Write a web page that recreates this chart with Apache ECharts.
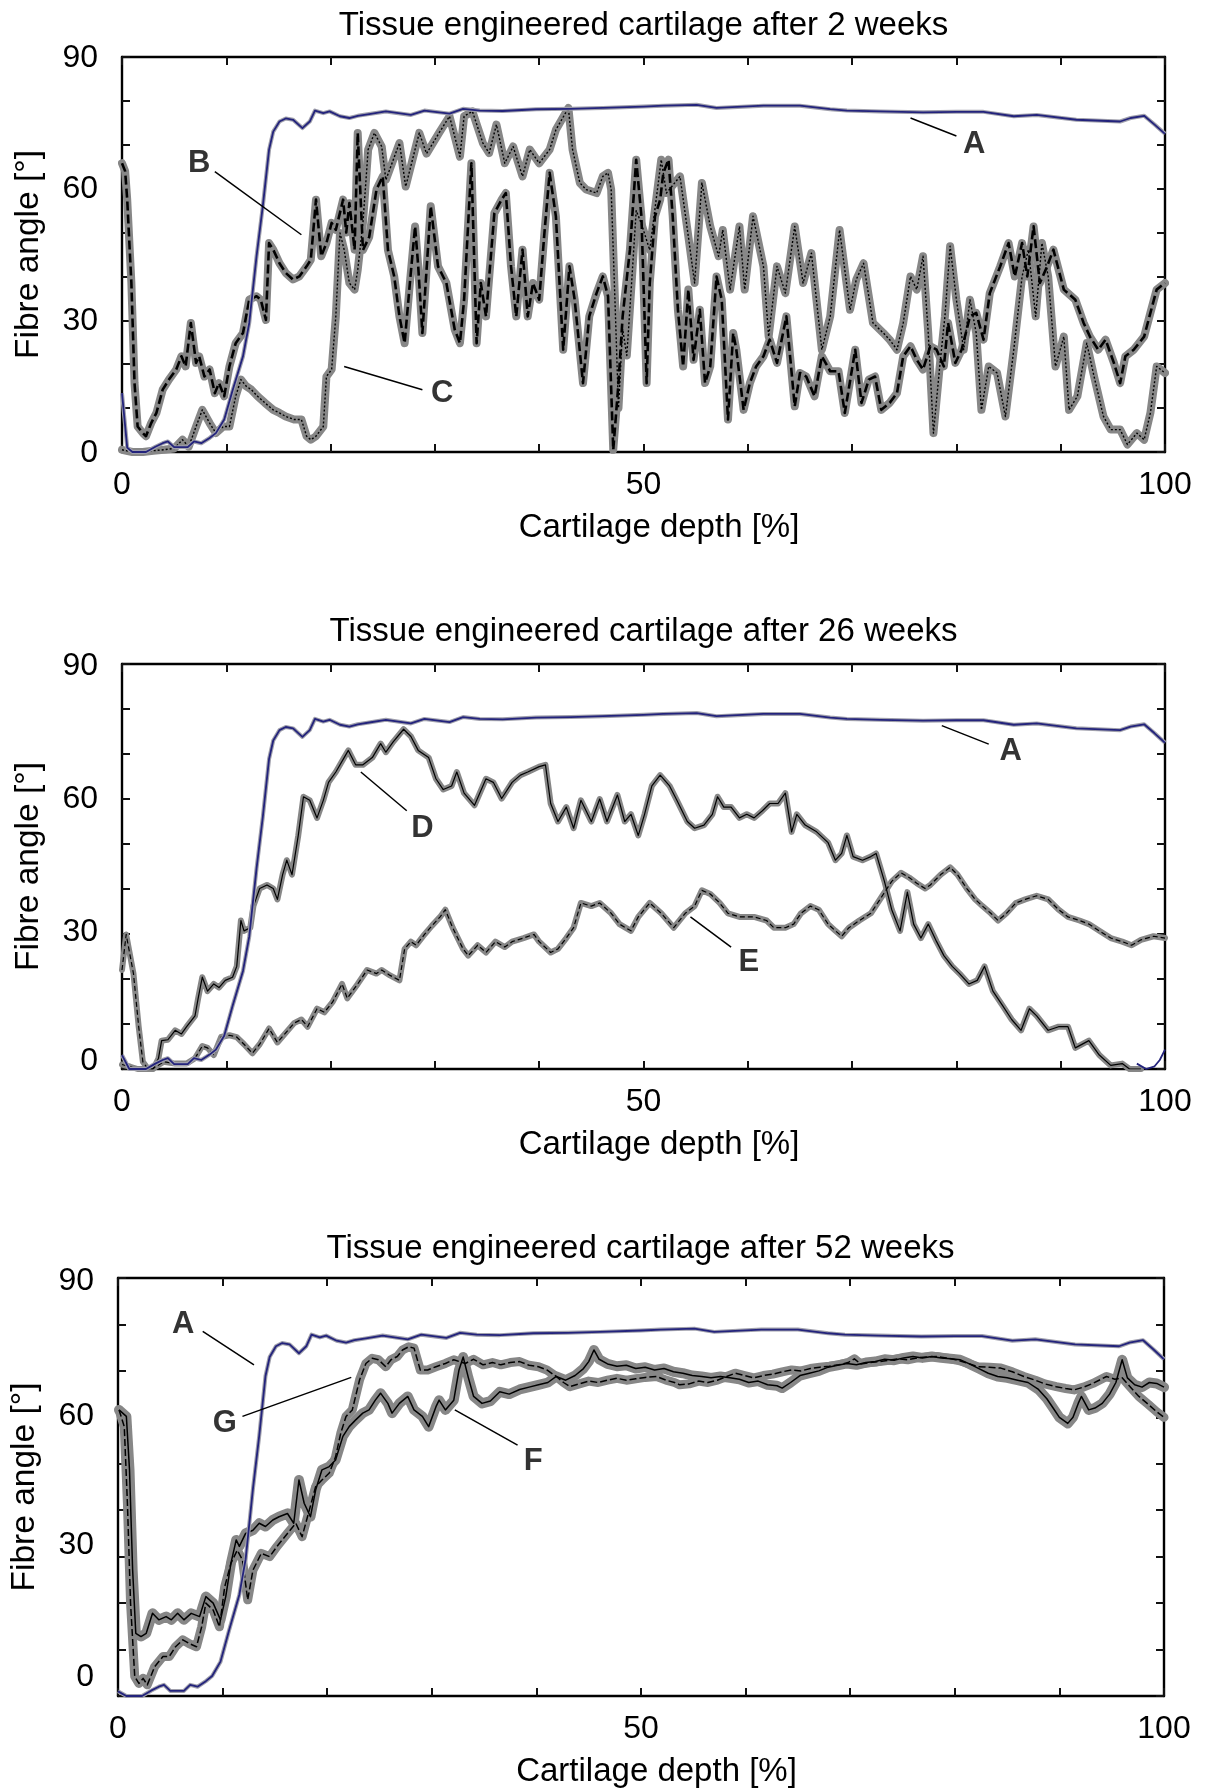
<!DOCTYPE html>
<html><head><meta charset="utf-8">
<script src="https://cdn.jsdelivr.net/npm/echarts@6/dist/echarts.min.js"></script>
<style>html,body{margin:0;padding:0;background:#fff}#c{width:1206px;height:1789px}</style>
</head><body><div id="c"></div>
<script>
// ---------------- DATA ----------------
const titles = ['Tissue engineered cartilage after 2 weeks','Tissue engineered cartilage after 26 weeks','Tissue engineered cartilage after 52 weeks'];
const xTickLabels = [0, 50, 100];
const yTickLabels = [0, 30, 60, 90];
const xName = 'Cartilage depth [%]';
const yName = 'Fibre angle [°]';

// Curve A (native reference), shared by all panels, plus panel specific start
const curveA = [[1,0],[2.3,0],[3.2,1.2],[3.9,2],[4.4,2.4],[5,1.1],[6.3,1.1],[6.9,2.4],[7.6,2],[8.4,3.2],[9,4.3],[9.8,7.4],[10.6,14],[11.6,21.8],[12.2,29.4],[12.9,44.6],[13.5,56],[14.1,68.9],[14.5,73],[15.1,75.3],[15.7,76],[16.4,75.7],[17.3,73.8],[18,75.3],[18.5,77.8],[19.3,77.2],[19.9,77.6],[20.9,76.5],[21.8,76.1],[22.6,76.6],[23.7,77],[25.3,77.6],[27.7,76.8],[29,77.8],[31.4,77.1],[32.7,78.2],[34.3,77.8],[36.5,77.7],[39.7,78.1],[43,78.2],[46.1,78.4],[50,78.7],[51.9,78.9],[55.1,79.1],[57,78.4],[61.5,78.9],[65,78.9],[67.9,78.1],[69.5,77.8],[72.7,77.6],[76.8,77.4],[80,77.5],[82.6,77.5],[85.5,76.5],[87.7,76.8],[91.5,75.7],[95.7,75.3],[96.7,76.1],[98,76.6],[99,74.6],[100,72.5]];
const aStart_2wk = [[0,13.4],[0.5,1]];
const aStart_26wk = [[0,3.1],[0.7,0]];
const aStart_52wk = [[0,1],[0.8,0]];
const aTail_26wk = [[97.3,1.2],[98.2,0],[99,0.6],[99.5,2],[100,4.3]];

// 2 weeks
const curveB_2wk = [[0,65.8],[0.3,64],[0.5,57.5],[0.9,38.5],[1.2,15.7],[1.5,5.8],[2,4.3],[2.3,3.6],[2.8,6.6],[3.3,8.9],[3.9,14.2],[4.5,16.5],[5.2,18.8],[5.7,21.8],[6.1,19.5],[6.6,29.4],[7.1,20.3],[7.4,21.8],[7.9,17.2],[8.4,18.8],[8.9,13.4],[9.3,15.7],[9.8,12.7],[10.3,19.5],[10.9,24.8],[11.6,27.1],[12.2,34.7],[12.9,35.5],[13.3,34.7],[13.8,30.1],[14.1,47.6],[14.5,46.1],[15.1,43],[15.7,40.8],[16.4,39.3],[17,40],[17.7,42.3],[18.1,43.8],[18.6,57.5],[19.1,44.6],[19.6,47.6],[20.1,52.2],[20.5,50.6],[21.2,57.5],[21.5,50],[21.8,56.7],[22.3,46.1],[22.6,72.7],[23.1,46],[23.7,49],[24.4,59.8],[25,62.8],[25.5,46],[26.1,40],[26.6,30.9],[27.1,24.8],[27.6,38.5],[28.1,51.4],[28.4,42.3],[28.8,27.1],[29.6,56],[30.3,42.3],[31.1,38.5],[31.9,27.9],[32.4,24.8],[32.8,34.7],[33.5,65.8],[34,24.8],[34.4,38.5],[34.9,30.9],[35.7,54.4],[36.4,57.5],[36.8,59],[37.3,42.3],[37.8,30.9],[38.4,46.1],[38.9,30.9],[39.4,38.5],[40,34.7],[40.5,49.9],[41,63.6],[41.6,53.7],[42.3,23.3],[42.9,42.3],[43.4,34.7],[44.2,15.7],[44.8,30.9],[45.5,36.2],[46.1,40],[46.6,35.5],[47.1,0.5],[47.6,15.7],[48,30.9],[48.7,46.1],[49.3,66.6],[49.8,53.7],[50.3,15.7],[50.6,38.5],[51.1,53.7],[51.6,57.5],[51.9,63.6],[52.4,66.6],[52.8,53.7],[53.3,32.4],[53.8,19.5],[54.3,37],[54.8,21],[55.4,32.4],[55.9,15.7],[56.4,19.5],[57,40],[57.5,34.7],[58.1,7.4],[58.6,27.1],[58.9,23.3],[59.6,9.6],[60.2,15.7],[60.8,19.5],[61.5,21.8],[62.1,25.6],[62.8,20.3],[63.7,30.9],[64.5,10.4],[65,18],[65.6,17.2],[66.4,12.7],[67.1,21.8],[67.9,18.4],[68.7,18.4],[69.3,8.9],[70.3,23.3],[70.9,11.2],[71.6,16.5],[72.2,17.2],[72.8,9.6],[73.6,11.2],[74.3,13.4],[74.9,21.8],[75.6,24.1],[76.2,21],[76.8,18.8],[77.5,24.1],[78.1,23.3],[78.8,19.5],[79.2,29.4],[79.9,20.3],[80.5,23.3],[81.3,30.9],[81.9,31.7],[82.6,25.6],[83.2,36.2],[84.2,42.3],[85,47.6],[85.6,40],[86.3,47.6],[86.8,40],[87.4,51.4],[88,38.5],[88.7,42.3],[89.3,46.1],[90.3,37],[91.4,34.7],[92.2,29.4],[92.8,26.3],[93.6,23.3],[94.3,25.6],[95.1,20.3],[95.7,15.7],[96.2,21.8],[97,23.3],[98,26.3],[98.6,31.7],[99.2,37],[100,38.5]];
const curveC_2wk = [[0,0.5],[1,0],[2,0],[3,0.3],[4,0.5],[5,0.8],[5.8,2.8],[6.4,1.2],[7.1,5.8],[7.7,9.6],[8.4,6.6],[9,4.3],[9.7,5.8],[10.3,5.8],[10.9,12.7],[11.4,16.5],[11.9,15],[12.4,14.2],[13,12.7],[13.7,11.2],[14.5,9.6],[15.1,8.9],[15.7,8.1],[16.5,7.4],[17.2,7.4],[17.7,3.6],[18.1,2.8],[18.6,3.6],[19.3,5.8],[19.6,17.2],[20.1,18.8],[20.5,30.9],[20.9,49.9],[21.3,46.1],[21.8,38.5],[22.3,37],[22.6,41.5],[23.1,52.2],[23.6,68.9],[24.2,72.7],[24.9,69.6],[25.3,62],[26.6,70.4],[27.2,60.5],[28.5,72.7],[29.2,68],[30.4,72.7],[31.4,76.5],[32.4,67.3],[32.8,76.5],[33.6,77.6],[34.6,70.4],[35.2,68.1],[35.9,74.6],[36.7,65.8],[37.5,69.6],[38.4,62.8],[39.1,68.9],[40,65.8],[41,68.9],[41.6,73.4],[42.8,78.4],[43.2,68.9],[43.9,61.3],[44.5,59.8],[45.5,59],[46.1,62.8],[46.6,63.6],[46.9,59.8],[47.3,32],[47.6,10],[48,28],[48.4,22],[48.9,40],[49.3,55],[49.8,52],[50.6,46],[51.7,66.6],[52.2,59],[53.5,62.8],[54.3,49.1],[54.9,38.5],[55.6,61.3],[56.4,51.4],[57.2,44.6],[57.6,50.6],[58.3,37],[59.2,51.4],[59.7,37],[60.5,53.7],[61.5,42.3],[62,26.3],[62.8,42.3],[63.6,36.2],[64.5,51.4],[65.3,38.5],[66.1,45.3],[67.1,23.3],[67.9,30.9],[68.8,50.6],[69.8,32.4],[70.4,39.3],[71.1,43],[72,29.4],[73,27.1],[73.6,25.6],[74.3,23.3],[74.9,29.4],[75.6,40],[76.2,37],[76.8,44.6],[77.3,27.1],[77.8,4.3],[78.4,19.5],[78.9,30.9],[79.4,46.9],[80,34.7],[80.7,23.3],[81.3,34.7],[81.9,27.1],[82.4,9.6],[83.1,19.5],[83.9,18],[84.7,8.1],[85.5,23.3],[86.3,40],[86.9,46.1],[87.6,30.9],[88.2,47.6],[88.8,40],[89.5,19.5],[90.3,26.3],[90.8,9.6],[91.6,12.7],[92.5,24.8],[93.2,17.2],[94.1,8.1],[94.8,5.1],[95.7,5.1],[96.4,1.7],[97.3,4.3],[98,2.8],[98.6,8.9],[99.2,19.5],[100,18]];

// 26 weeks
const curveD_26wk = [[0,1],[0.8,0.5],[1.5,0],[3,0],[3.5,2.4],[3.8,6.3],[4.4,6.5],[5.1,8.6],[5.7,7.8],[6.2,9.4],[7,11.8],[7.3,15.7],[7.7,20.4],[8.2,17.3],[8.8,18.9],[9.3,18.1],[9.9,19.7],[10.6,20.4],[11,22.8],[11.4,33],[11.7,30.7],[12.3,31.4],[12.6,36.2],[13.2,40.1],[13.9,40.9],[14.5,40.1],[14.9,37.7],[15.4,43.2],[15.8,46.4],[16.3,43.2],[16.9,51.9],[17.4,60.5],[18,59.7],[18.7,55.8],[19.3,59.7],[19.8,63.7],[20.5,66],[21.3,69.2],[21.7,70.8],[22.4,67.6],[23.1,67.6],[24,69.2],[24.8,72.3],[25.3,70.4],[26,72.7],[27,75.5],[27.7,73.9],[28.4,70.8],[29.4,69.2],[30.1,64.5],[30.8,62.1],[31.6,62.9],[32.1,66],[32.8,61.3],[33.8,58.6],[34.9,64.5],[35.6,63.7],[36.4,60.1],[37.4,63.7],[38.2,65.3],[38.9,66],[40,67.2],[40.6,67.6],[41.1,59],[41.8,55],[42.6,58.2],[43.3,53.5],[44,59.7],[45,55],[45.8,60],[46.5,55],[47.5,60.9],[48.2,55],[48.8,56.6],[49.5,51.9],[50.1,56.6],[50.8,62.9],[51.6,65.3],[52.5,62.9],[53.2,59.7],[54.2,55],[54.9,53.5],[55.8,54.2],[56.6,56.6],[57.1,60.5],[57.7,58.2],[58.4,58.2],[59.2,55.8],[59.9,56.6],[60.6,55.8],[61.4,57.4],[62.1,59],[62.9,59],[63.6,61.3],[64.2,52.7],[64.7,56.6],[65.5,54.2],[66.6,52.7],[67.7,50.3],[68.4,46.4],[69,47.9],[69.5,51.9],[70.1,47.2],[71,46.4],[71.8,47.2],[72.3,47.9],[73.1,41.7],[73.8,35.4],[74.6,30.7],[75.3,39.3],[75.9,32.2],[76.6,29.1],[77.3,32.2],[78.1,28.3],[78.8,25.2],[79.6,22.8],[80.3,21.2],[81.2,18.9],[82,19.7],[82.7,22.8],[83.5,17.3],[84.4,14.2],[85.3,11],[86.2,8.6],[87,13.4],[87.7,11.8],[88.8,8.6],[89.8,9.4],[90.7,9.4],[91.4,4.7],[92.7,6.3],[93.7,3.1],[94.8,0.8],[95.9,1.2],[96.6,0],[97.7,0]];
const curveE_26wk = [[0,22],[0.4,29.9],[1.1,21.2],[1.6,9.4],[2,1.6],[2.5,0],[2.9,0],[4,1.6],[5.1,1.2],[6.2,1.2],[7,2.4],[7.7,5.1],[8.2,4.7],[8.8,3.1],[9.5,7.1],[10.3,7.5],[11,7.1],[11.7,5.5],[12.5,3.5],[13.2,5.5],[14.1,9],[14.9,5.9],[15.8,8.3],[16.5,10.2],[17.2,11],[17.8,9.4],[18.7,13.4],[19.4,12.6],[20.2,14.9],[21.1,18.9],[21.6,15.7],[22.6,18.9],[23.5,22],[24.4,21.2],[24.9,22],[25.7,20.8],[26.6,19.7],[27.1,26.7],[27.7,28.3],[28.2,27.5],[29,29.9],[29.7,31.8],[30.5,33.8],[31,35.4],[31.7,31.4],[32.7,26.7],[33.2,25.2],[34.1,27.5],[34.9,25.9],[35.8,28.3],[36.7,27.1],[37.4,28.3],[38.5,29.1],[39.5,29.9],[40,28.3],[41.1,25.9],[41.8,26.7],[42.6,29.1],[43.3,31.4],[44,36.9],[45,36.2],[45.8,36.9],[46.9,34.6],[47.7,32.2],[48.8,30.7],[49.5,33.8],[50.6,36.9],[51.7,34.6],[52.9,31.4],[54,34.6],[54.9,36.2],[55.6,39.7],[56.4,38.9],[57.3,36.9],[58.1,34.6],[59.2,33.8],[60.6,33.8],[61.8,33],[62.5,31.4],[63.6,31.4],[64.4,32.2],[65.1,34.6],[66,36.2],[66.8,35.4],[67.7,32.2],[68.4,30.7],[69,29.5],[69.7,31.4],[70.7,33],[71.8,34.6],[72.9,38.5],[73.8,41.7],[74.7,43.6],[75.5,42.5],[76.2,41.3],[77,40.1],[77.5,40.9],[78.5,43.2],[79.4,44.8],[80.1,43.2],[81,40.1],[81.8,37.7],[82.5,36.2],[83.3,34.6],[84,33],[84.8,34.6],[85.7,36.9],[86.6,37.7],[87.7,38.5],[88.8,37.7],[89.8,35.4],[90.7,33.8],[91.8,33],[92.7,32.2],[93.7,30.7],[94.8,29.1],[95.9,28.3],[96.8,27.5],[97.7,28.7],[98.9,29.5],[100,29.1]];

// 52 weeks
const curveF_52wk = [[0.1,61.6],[0.8,60.2],[1.1,48.7],[1.4,27.1],[1.7,13.5],[2.2,12.8],[2.7,13.5],[3.3,17.8],[3.9,16.4],[4.6,17.1],[5.1,16.4],[5.7,17.8],[6.3,16.4],[7,17.8],[7.8,17.1],[8.4,21.4],[9.1,20],[9.8,16.4],[10.3,21.4],[10.8,28.6],[11.3,33.6],[11.6,32.2],[12.2,35],[12.9,35.7],[13.5,37.2],[14.1,36.5],[14.8,37.9],[15.4,38.6],[16.2,39.3],[16.8,37.2],[17.3,46.5],[17.8,41.5],[18.4,38.6],[18.9,44.4],[19.5,48.7],[20.2,49.4],[20.8,50.8],[21.5,55.9],[22.1,58],[22.7,59.4],[23.4,60.9],[24,61.6],[24.6,63.7],[25.1,65.2],[25.8,63],[26.2,60.9],[26.9,63],[27.7,64.5],[28.3,61.6],[29.1,60.2],[29.7,58],[30.4,62.3],[30.7,63.7],[31.3,61.6],[32.1,63.7],[32.6,70.2],[33,73],[33.5,68.5],[34,64.5],[34.8,63],[35.6,63.5],[36.5,65.5],[37.4,65],[38.4,66],[39.3,66.5],[40.2,67],[41.1,67.5],[41.9,68.8],[42.8,68],[43.7,69],[44.5,70.5],[45,72],[45.5,74.5],[46,72.5],[46.8,71.5],[47.7,71],[48.6,71.2],[49.5,70.5],[50.4,70.8],[51.3,70.2],[52.2,70.5],[53.1,69.8],[54,69.5],[54.9,69],[55.8,68.8],[56.7,68.5],[57.6,68.8],[58.5,68.5],[59.4,68.2],[60.3,67.5],[61.2,67.8],[62.1,67],[63,66.8],[63.5,66.3],[64.3,67.5],[65.2,69],[66.1,69.5],[67,70],[67.9,70.8],[68.8,71.2],[69.7,71.6],[70.6,71.3],[71.5,71.8],[72.4,72],[73.3,72.5],[74.2,72.3],[75.1,72.8],[76,73.1],[76.9,72.8],[77.8,73.1],[78.7,72.8],[79.6,72.6],[80.5,72.4],[81.4,71.5],[82.3,70.5],[83.2,69.5],[84.1,68.8],[85,68.5],[86,68],[87,67.5],[88,66],[88.8,64],[89.4,62],[90,60],[90.8,58.7],[91.3,60],[91.8,63],[92.1,64.5],[92.8,61.6],[93.4,62],[94.1,63],[94.8,65],[95.4,67.5],[96,72.4],[96.5,68.5],[97.2,67],[97.9,66.5],[98.6,67.5],[99.3,67.3],[100,66.5]];
const curveG_52wk = [[0.1,61.6],[0.6,58],[0.9,41.5],[1.2,20],[1.6,4.2],[2,2.7],[2.4,3.8],[2.8,2.4],[3.5,6.3],[4.3,8.5],[4.9,8.5],[5.5,10.6],[6.2,12.1],[6.8,11.3],[7.5,10.6],[8,14.9],[8.4,20],[9.1,18.5],[9.7,14.9],[10.2,23.5],[10.8,28.6],[11.4,31.4],[11.9,29.3],[12.4,20.7],[12.9,27.1],[13.7,30.7],[14.5,30],[15.2,32.2],[16.2,35],[17,37.2],[17.6,34.3],[18.3,40.1],[18.9,45.1],[19.5,46.5],[20.2,48],[20.8,51.5],[21.3,56.6],[21.8,60.2],[22.4,61.6],[23.1,68.1],[23.7,71.6],[24.3,72.7],[24.9,72.4],[25.6,70.9],[26.1,72.4],[26.7,73.1],[27.2,74.5],[27.8,75.2],[28.3,74.9],[28.9,70.2],[29.6,70.2],[30.4,70.9],[31.3,71.6],[32.1,72.4],[33.2,71.6],[34,72.5],[34.9,71.3],[35.8,71.8],[36.6,71.3],[37.5,71.8],[38.4,72],[39.3,71.2],[40.2,70.9],[41,70.2],[41.9,68.8],[42.6,67.5],[43.2,66.6],[44.1,67.2],[45,67.8],[45.9,67.5],[46.8,68],[47.7,68.4],[48.6,68],[49.5,68.3],[50.4,68.6],[51.5,68.8],[52.4,68],[53.2,67.5],[53.7,67],[54.6,67.2],[55.5,67.8],[56.4,67.5],[57.3,68],[58.2,68.8],[59,69.5],[59.9,69],[60.8,68.5],[61.7,69],[62.6,69.3],[63.5,69.8],[64.4,70.2],[65.3,70],[66.2,70.5],[67.1,70.8],[68,71],[68.9,71.3],[69.8,71.8],[70.4,72.6],[71,71.5],[71.9,71.8],[72.8,72],[73.7,72.3],[74.6,72.6],[75.5,72.4],[76.4,72.8],[77.3,73],[78.3,73.1],[79.2,72.8],[80.1,72.4],[81,71.8],[82.2,70.9],[83.3,70.8],[84.4,70.6],[85.5,69.8],[86.6,68.8],[87.7,68],[88.6,67.2],[89.7,66.6],[90.6,66.2],[91.4,65.9],[92.3,66.5],[93.2,67.3],[94.5,68.8],[95.3,68.2],[96,68.5],[96.8,66.5],[97.6,64.5],[98.5,62.8],[99.3,61.2],[100,60]];

// Annotations: [letter, x, y] and leader lines [x1,y1,x2,y2] in data units
const annot_2wk = [['B',7.4,65.7],['C',30.7,13.4],['A',81.7,70]];
const leaders_2wk = [[8.9,63.9,17.2,49.5],[21.3,19.5,28.8,14.2],[75.6,76.1,80,72]];
const annot_26wk = [['D',28.8,53.5],['A',85.2,70.6],['E',60.1,23.7]];
const leaders_26wk = [[22.9,66,27.3,57.4],[78.6,76.3,83.1,72.2],[54.5,33.8,58.4,27.1]];
const annot_52wk = [['A',6.24,80.1],['G',10.2,58.6],['F',39.7,50.5]];
const leaders_52wk = [[8.1,78.5,13,71.3],[11.9,60.2,22.3,68.6],[32.2,61.6,38.2,54]];

// ---------------- CHART ----------------
const FONT = '"Liberation Sans", Arial, Helvetica, sans-serif';
const GRAY = '#878787', BLUE = '#23237c', BLACK = '#000';

const panels = [
  { title: titles[0], grid:{left:122, top:57, width:1043, height:395}, titleTop:9,
    raise:{90:-1,60:-1,30:-1,0:-1},
    curves:[{data:curveB_2wk, dash:[9,4], w:2.6, band:8},{data:curveC_2wk, dash:[2,2], w:1.4, band:8}],
    aStart:aStart_2wk, tails:[], annot:annot_2wk, leaders:leaders_2wk },
  { title: titles[1], grid:{left:122, top:664, width:1043, height:405}, titleTop:615,
    raise:{90:-2,60:0,30:2,0:8},
    curves:[{data:curveD_26wk, dash:'solid', w:1.2, band:6},{data:curveE_26wk, dash:[5,3], w:1.2, band:6}],
    aStart:aStart_26wk, tails:[aTail_26wk], annot:annot_26wk, leaders:leaders_26wk },
  { title: titles[2], grid:{left:117, top:1278, width:1047, height:418}, titleTop:1232,
    raise:{90:-3.5,60:1.5,30:11,0:19},
    curves:[{data:curveF_52wk, dash:'solid', w:1.5, band:10},{data:curveG_52wk, dash:[7,3], w:1.5, band:9}],
    aStart:aStart_52wk, tails:[], annot:annot_52wk, leaders:leaders_52wk }
];

const option = { animation:false, backgroundColor:'#fff', title:[], grid:[], xAxis:[], yAxis:[], series:[] };

panels.forEach((p, i) => {
  option.grid.push(p.grid);
  option.title.push({ text:p.title, left:p.grid.left + p.grid.width/2, top:p.titleTop, textAlign:'center', textVerticalAlign:'top', padding:0,
    textStyle:{ fontFamily:FONT, fontSize:33, fontWeight:'normal', color:BLACK } });
  const axLine = { show:true, onZero:false, lineStyle:{ color:BLACK, width:2.4 } };
  const tick = { show:true, inside:true, length:8, lineStyle:{ color:'#111', width:2 } };
  option.xAxis.push({ gridIndex:i, type:'value', min:0, max:100, interval:10, position:'bottom',
    axisLine:axLine, axisTick:tick, splitLine:{show:false},
    axisLabel:{ formatter:v => xTickLabels.includes(v) ? String(v) : '', fontFamily:FONT, fontSize:32, color:BLACK, margin:17 },
    name:xName, nameLocation:'middle', nameGap:59,
    nameTextStyle:{ fontFamily:FONT, fontSize:33, color:BLACK, padding:[0,0,0,31] } });
  option.xAxis.push({ gridIndex:i, type:'value', min:0, max:100, interval:10, position:'top',
    axisLine:axLine, axisTick:tick, splitLine:{show:false}, axisLabel:{show:false} });
  const rich = {};
  yTickLabels.forEach(v => {
    const d = p.raise[v] || 0;
    rich['r'+v] = { fontFamily:FONT, fontSize:32, color:BLACK, padding: d >= 0 ? [0,0,2*d,0] : [-2*d,0,0,0] };
  });
  option.yAxis.push({ gridIndex:i, type:'value', min:0, max:90, interval:10, position:'left',
    axisLine:axLine, axisTick:tick, splitLine:{show:false},
    axisLabel:{ formatter:v => yTickLabels.includes(v) ? '{r'+v+'|'+v+'}' : '', rich, fontFamily:FONT, fontSize:32, color:BLACK, margin:24 },
    name:yName, nameLocation:'middle', nameGap:76,
    nameTextStyle:{ fontFamily:FONT, fontSize:33.5, color:BLACK } });
  option.yAxis.push({ gridIndex:i, type:'value', min:0, max:90, interval:10, position:'right',
    axisLine:axLine, axisTick:tick, splitLine:{show:false}, axisLabel:{show:false} });

  const xi = 2*i, yi = 2*i;
  const base = { type:'line', xAxisIndex:xi, yAxisIndex:yi, symbol:'none', silent:true, clip:true };
  // grey bands
  p.curves.forEach(c => option.series.push(Object.assign({}, base, { data:c.data, z:1,
    lineStyle:{ color:GRAY, width:c.band, join:'round', cap:'round' } })));
  // black centre lines
  p.curves.forEach(c => option.series.push(Object.assign({}, base, { data:c.data, z:2,
    lineStyle:{ color:BLACK, width:c.w, type:c.dash, join:'round' } })));
  // curve A
  const aData = p.aStart.concat(curveA);
  option.series.push(Object.assign({}, base, { data:aData, z:3, lineStyle:{ color:'#a0a0ac', width:4, join:'round' } }));
  option.series.push(Object.assign({}, base, { data:aData, z:4, lineStyle:{ color:BLUE, width:1.8, join:'round' } }));
  p.tails.forEach(t => option.series.push(Object.assign({}, base, { data:t, z:4, lineStyle:{ color:BLUE, width:1.8 } })));
  // annotations
  option.series.push({ type:'scatter', xAxisIndex:xi, yAxisIndex:yi, silent:true, z:6,
    data:p.annot.map(a => [a[1], a[2], a[0]]), symbolSize:1, itemStyle:{ color:'rgba(0,0,0,0)' },
    label:{ show:true, position:'inside', formatter:q => q.value[2], fontFamily:FONT, fontSize:31, fontWeight:'bold', color:BLACK },
    markLine:{ silent:true, symbol:['none','none'], animation:false, label:{show:false},
      lineStyle:{ color:BLACK, type:'solid', width:1.5 },
      data:p.leaders.map(l => [{coord:[l[0],l[1]]},{coord:[l[2],l[3]]}]) } });
});

const chart = echarts.init(document.getElementById('c'), null, { renderer:'canvas' });
chart.setOption(option);
</script></body></html>
